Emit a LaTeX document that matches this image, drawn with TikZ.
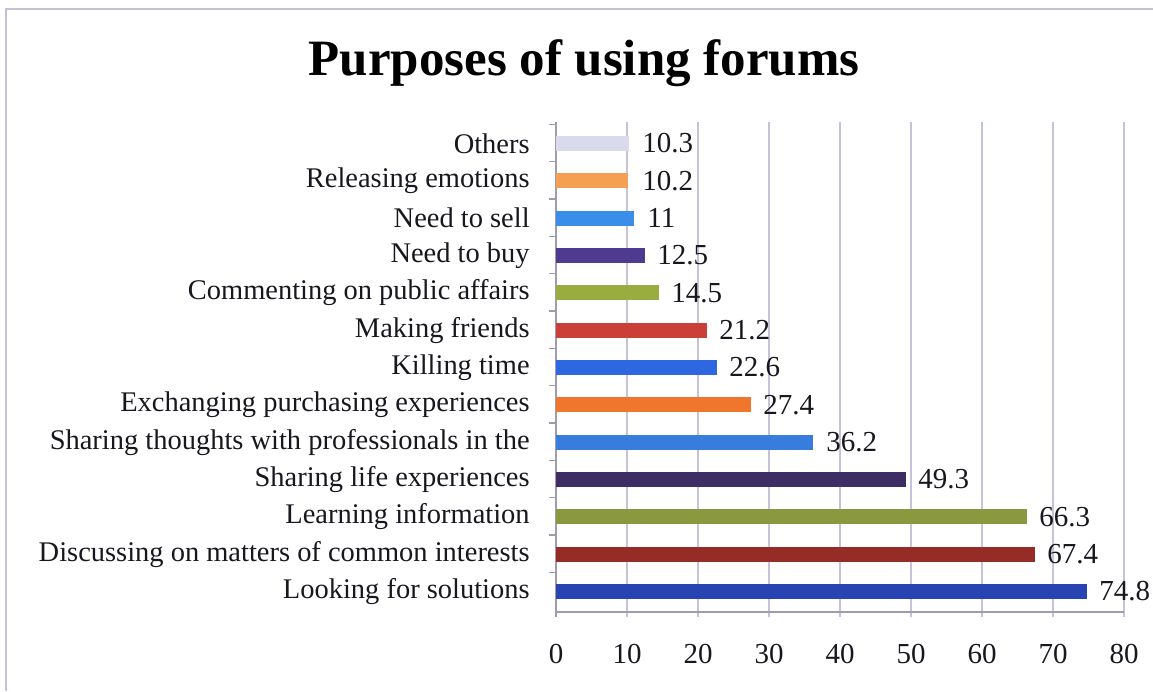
\documentclass[tikz,border=0pt]{standalone}
\usepackage{fontspec}
\setmainfont{Liberation Serif}
\usetikzlibrary{positioning}

\definecolor{frameGrey}{RGB}{196,192,214}
\definecolor{gridGrey}{RGB}{200,194,216}
\definecolor{textDark}{RGB}{24,22,30}
\definecolor{cOthers}{RGB}{218,218,236}
\definecolor{cEmotions}{RGB}{244,160,84}
\definecolor{cSell}{RGB}{58,142,234}
\definecolor{cBuy}{RGB}{78,58,142}
\definecolor{cPublic}{RGB}{152,172,64}
\definecolor{cFriends}{RGB}{202,64,56}
\definecolor{cTime}{RGB}{46,104,224}
\definecolor{cPurchase}{RGB}{240,118,46}
\definecolor{cThoughts}{RGB}{56,124,222}
\definecolor{cLife}{RGB}{62,44,100}
\definecolor{cLearning}{RGB}{138,152,64}
\definecolor{cDiscuss}{RGB}{150,44,38}
\definecolor{cSolutions}{RGB}{40,68,178}

\begin{document}
\begin{tikzpicture}[x = 0.02cm, y = -0.02cm]
\tikzstyle{frameStyle} = [frameGrey, line width = 0.8pt]
\tikzstyle{gridStyle} = [gridGrey, line width = 0.6pt]
\tikzstyle{axisStyle} = [gridGrey!80!black, line width = 0.8pt]
\tikzstyle{titleStyle} = [font = \fontsize{29}{32}\selectfont\bfseries, inner sep = 0pt]
\tikzstyle{catStyle} = [anchor = east, text = textDark, font = \fontsize{16.2}{18}\selectfont, inner sep = 0pt]
\tikzstyle{valStyle} = [anchor = west, text = textDark, font = \fontsize{16.5}{18}\selectfont, inner sep = 0pt]
\tikzstyle{tickStyle} = [text = textDark, font = \fontsize{16.5}{18}\selectfont, inner sep = 0pt]
\useasboundingbox (0,0) rectangle (1153,691);
% frame
\coordinate (frameBL) at (6,691);
\coordinate (frameTL) at (6,9);
\coordinate (frameTR) at (1153,9);
\draw[frameStyle] (frameBL) -- (frameTL) -- (frameTR);
\node[titleStyle] (title) at (584,63) {Purposes of using forums};
% grid
\draw[gridStyle] (627,122) -- (627,617);
\draw[gridStyle] (698,122) -- (698,617);
\draw[gridStyle] (769,122) -- (769,617);
\draw[gridStyle] (840,122) -- (840,617);
\draw[gridStyle] (911,122) -- (911,617);
\draw[gridStyle] (982,122) -- (982,617);
\draw[gridStyle] (1053,122) -- (1053,617);
\draw[gridStyle] (1124,122) -- (1124,617);
% axes
\coordinate (origin) at (556,612);
\coordinate (yTop) at (556,122);
\coordinate (xEnd) at (1124,612);
\draw[axisStyle] (yTop) -- (origin) -- (xEnd);
\draw[axisStyle] (556,612) -- (556,617);
\foreach \k in {0,...,12} {\draw[axisStyle] (549,{124.3+37.33*\k}) -- (556,{124.3+37.33*\k});}
% bars
\fill[cOthers] (556,136) rectangle (629.1,151);
\fill[cEmotions] (556,173.3) rectangle (628.4,188.3);
\fill[cSell] (556,210.7) rectangle (634.1,225.7);
\fill[cBuy] (556,248) rectangle (644.8,263);
\fill[cPublic] (556,285.3) rectangle (659,300.3);
\fill[cFriends] (556,322.7) rectangle (706.5,337.7);
\fill[cTime] (556,360) rectangle (716.5,375);
\fill[cPurchase] (556,397.3) rectangle (750.5,412.3);
\fill[cThoughts] (556,434.7) rectangle (813,449.7);
\fill[cLife] (556,472) rectangle (906,487);
\fill[cLearning] (556,509.3) rectangle (1026.7,524.3);
\fill[cDiscuss] (556,546.7) rectangle (1034.5,561.7);
\fill[cSolutions] (556,584) rectangle (1087.1,599);
% categories
\node[catStyle] (l0) at (530,143.5) {Others};
\node[catStyle] (l1) at (530,180.8) {Releasing emotions};
\node[catStyle] (l2) at (530,218.2) {Need to sell};
\node[catStyle] (l3) at (530,255.5) {Need to buy};
\node[catStyle] (l4) at (530,292.8) {Commenting on public affairs};
\node[catStyle] (l5) at (530,330.2) {Making friends};
\node[catStyle] (l6) at (530,367.5) {Killing time};
\node[catStyle] (l7) at (530,404.8) {Exchanging purchasing experiences};
\node[catStyle] (l8) at (530,442.2) {Sharing thoughts with professionals in the};
\node[catStyle] (l9) at (530,479.5) {Sharing life experiences};
\node[catStyle] (l10) at (530,516.8) {Learning information};
\node[catStyle] (l11) at (530,554.2) {Discussing on matters of common interests};
\node[catStyle] (l12) at (530,591.5) {Looking for solutions};
% values
\node[valStyle] (v0) at (642,143.5) {10.3};
\node[valStyle] (v1) at (642,180.8) {10.2};
\node[valStyle] (v2) at (647,218.2) {11};
\node[valStyle] (v3) at (657,255.5) {12.5};
\node[valStyle] (v4) at (671,292.8) {14.5};
\node[valStyle] (v5) at (719,330.2) {21.2};
\node[valStyle] (v6) at (729,367.5) {22.6};
\node[valStyle] (v7) at (763,404.8) {27.4};
\node[valStyle] (v8) at (826,442.2) {36.2};
\node[valStyle] (v9) at (918,479.5) {49.3};
\node[valStyle] (v10) at (1039,516.8) {66.3};
\node[valStyle] (v11) at (1047,554.2) {67.4};
\node[valStyle] (v12) at (1099,591.5) {74.8};
% ticks
\node[tickStyle] (t0) at (556,654) {0};
\node[tickStyle] (t10) at (627,654) {10};
\node[tickStyle] (t20) at (698,654) {20};
\node[tickStyle] (t30) at (769,654) {30};
\node[tickStyle] (t40) at (840,654) {40};
\node[tickStyle] (t50) at (911,654) {50};
\node[tickStyle] (t60) at (982,654) {60};
\node[tickStyle] (t70) at (1053,654) {70};
\node[tickStyle] (t80) at (1124,654) {80};
\end{tikzpicture}
\end{document}
